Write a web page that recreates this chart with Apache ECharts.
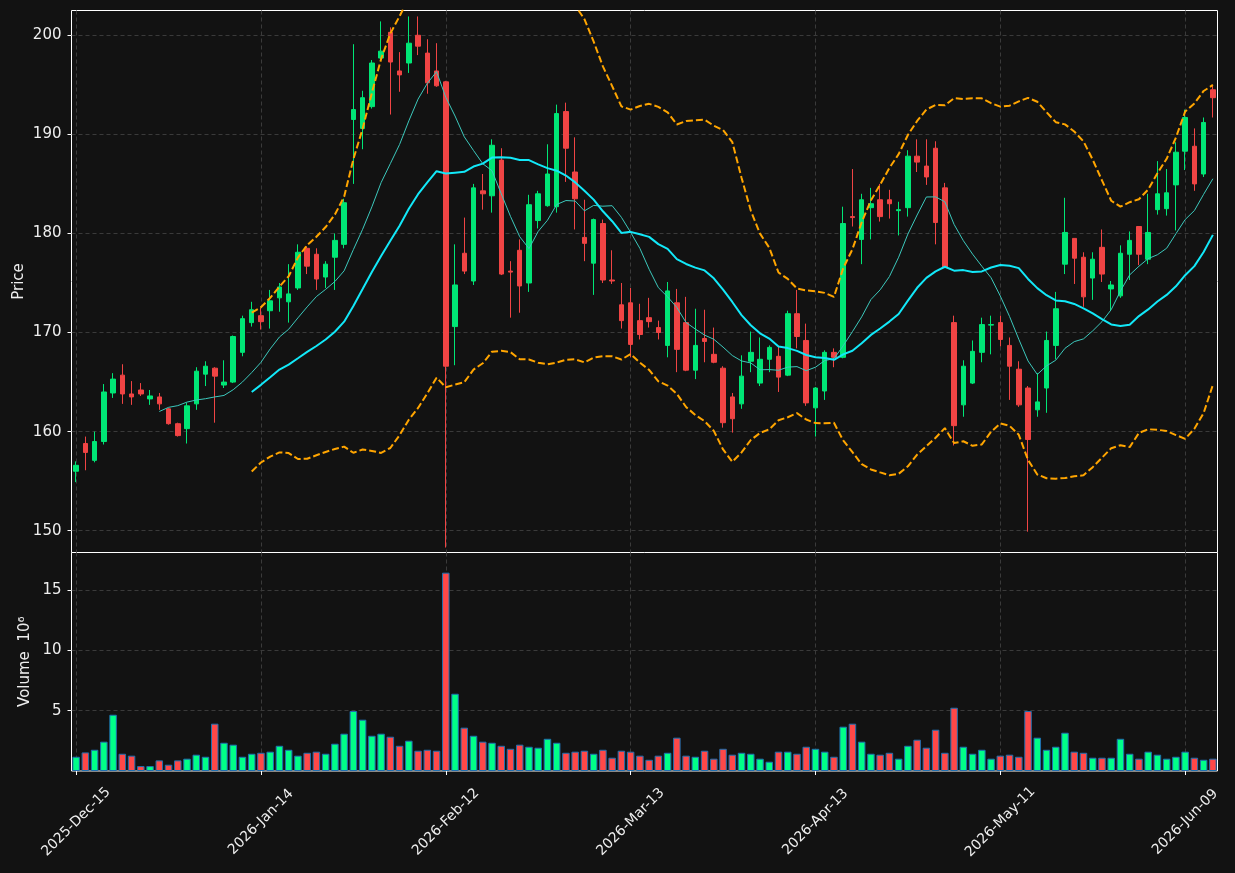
<!DOCTYPE html>
<html>
<head>
<meta charset="utf-8">
<script src="https://cdn.jsdelivr.net/npm/echarts@6/dist/echarts.min.js"></script>
<style>
  html, body { margin: 0; padding: 0; background: #121212; }
  #main { width: 1235px; height: 873px; }
</style>
</head>
<body>
<div id="main"></div>
<script>
// trading days (NYSE calendar) from 2025-12-15 to 2026-06-12
const startDay = '2025-12-15';
const endDay = '2026-06-12';
const holidays = ['2025-12-25', '2026-01-01', '2026-01-19', '2026-02-16', '2026-04-03', '2026-05-25'];

const priceTicks = [150, 160, 170, 180, 190, 200];
const volumeTicks = [5, 10, 15];

const opens = [
  156.0, 158.8, 157.1, 159.0, 163.9, 165.7, 163.8, 164.2, 163.3, 163.5,
  162.3, 160.8, 160.3, 162.8, 165.8, 166.4, 164.7, 165.0, 168.0, 171.0,
  171.7, 172.2, 173.5, 173.1, 174.5, 178.5, 177.9, 175.6, 177.6, 178.9,
  191.5, 190.6, 192.8, 197.7, 200.3, 196.4, 197.2, 200.0, 198.2, 196.4,
  195.3, 170.6, 178.0, 175.2, 184.3, 183.8, 187.4, 176.2, 178.3, 175.0,
  181.3, 182.8, 182.7, 192.3, 186.2, 179.6, 177.0, 181.0, 175.3, 172.8,
  173.0, 171.2, 171.5, 170.5, 168.7, 173.0, 171.0, 166.2, 169.4, 167.8,
  166.4, 163.5, 162.8, 167.1, 164.9, 167.3, 167.6, 165.7, 171.9, 169.2,
  162.4, 164.1, 168.0, 167.5, 181.7, 179.4, 182.6, 183.4, 183.4, 182.3,
  182.6, 187.8, 186.8, 188.6, 184.6, 171.0, 162.7, 164.9, 168.0, 170.75,
  171.0, 168.7, 166.3, 164.4, 162.2, 164.4, 168.7, 176.9, 179.5, 177.6,
  175.5, 178.6, 174.4, 173.7, 177.9, 180.7, 177.4, 182.4, 182.5, 184.9,
  188.3, 188.8, 186.0, 194.5
];
const closes = [
  156.6, 157.9, 159.0, 164.0, 165.3, 163.8, 163.5, 163.8, 163.6, 162.8,
  160.8, 159.6, 162.6, 166.1, 166.6, 165.6, 165.0, 169.6, 171.4, 172.3,
  171.1, 173.2, 174.6, 173.9, 178.1, 176.7, 175.4, 176.9, 179.3, 183.1,
  192.5, 193.7, 197.2, 198.4, 197.3, 196.0, 199.2, 198.9, 195.2, 194.9,
  166.6, 174.8, 176.2, 184.6, 184.0, 188.9, 175.9, 176.1, 174.7, 182.9,
  184.0, 186.0, 192.1, 188.6, 183.5, 179.0, 181.4, 175.3, 175.2, 171.2,
  168.8, 169.8, 171.1, 170.0, 174.2, 168.3, 166.2, 168.7, 169.1, 167.0,
  160.9, 161.3, 165.6, 168.0, 167.3, 168.5, 165.5, 171.9, 169.6, 162.9,
  164.4, 168.0, 167.5, 181.0, 181.6, 183.4, 183.0, 181.7, 183.0, 182.4,
  187.8, 187.2, 185.7, 181.1, 176.6, 160.6, 166.6, 168.1, 170.8, 170.8,
  169.3, 166.6, 162.7, 159.2, 163.0, 169.2, 172.4, 180.1, 177.5, 173.6,
  177.4, 175.9, 174.8, 178.0, 179.3, 177.9, 180.1, 184.0, 184.1, 188.2,
  191.7, 185.0, 191.2, 193.7
];
const lows = [
  154.9, 156.1, 156.9, 158.7, 163.4, 162.8, 162.7, 163.6, 162.7, 162.2,
  160.7, 159.5, 158.8, 162.2, 164.6, 160.9, 164.4, 164.9, 167.6, 170.6,
  170.3, 170.4, 172.1, 171.0, 174.3, 175.9, 174.3, 174.5, 174.3, 178.5,
  185.0, 188.5, 192.6, 197.6, 192.0, 194.3, 196.2, 198.0, 194.1, 194.8,
  148.3, 166.7, 175.9, 174.8, 182.4, 182.1, 175.8, 171.5, 172.0, 174.1,
  180.5, 182.7, 182.1, 185.2, 180.4, 177.2, 173.8, 175.0, 174.9, 170.4,
  167.5, 169.3, 170.5, 169.3, 167.5, 166.0, 166.1, 165.3, 167.0, 166.9,
  160.4, 159.9, 162.3, 166.0, 164.6, 166.0, 164.0, 165.6, 168.4, 162.6,
  159.5, 163.2, 166.5, 167.4, 180.7, 176.9, 179.4, 181.2, 181.5, 179.8,
  181.7, 186.2, 184.9, 178.9, 176.5, 158.6, 161.5, 164.8, 167.0, 167.8,
  168.6, 163.2, 162.5, 149.9, 161.5, 161.9, 167.3, 175.9, 174.9, 172.6,
  173.3, 175.1, 172.2, 173.5, 175.3, 176.8, 176.9, 181.9, 181.8, 180.3,
  186.4, 184.3, 185.7, 191.7
];
const highs = [
  157.0, 159.5, 160.0, 164.8, 165.9, 166.8, 165.1, 164.9, 164.2, 163.9,
  162.4, 160.9, 162.9, 166.5, 167.1, 166.5, 167.2, 169.7, 171.7, 173.1,
  172.5, 174.3, 175.0, 176.9, 178.9, 178.7, 178.5, 177.2, 180.0, 183.5,
  199.1, 194.4, 197.5, 201.4, 200.8, 198.3, 201.9, 201.9, 199.6, 199.2,
  195.4, 178.9, 181.6, 185.0, 186.0, 189.5, 188.6, 177.2, 179.4, 183.9,
  184.3, 189.0, 193.0, 193.2, 189.7, 183.4, 181.5, 181.4, 178.3, 175.0,
  174.5, 172.9, 173.5, 171.2, 175.1, 174.4, 173.6, 172.4, 172.3, 170.5,
  166.6, 163.9, 167.7, 170.1, 169.5, 168.7, 168.6, 172.2, 174.3, 170.9,
  164.5, 168.2, 168.4, 182.7, 186.5, 184.0, 184.6, 185.0, 184.4, 183.2,
  188.4, 189.5, 189.5, 189.3, 185.1, 171.7, 167.2, 169.2, 171.5, 171.7,
  171.7, 169.5, 167.1, 164.6, 165.9, 170.1, 174.1, 183.6, 179.5, 178.1,
  178.1, 180.4, 175.2, 178.8, 180.2, 180.7, 184.0, 187.3, 186.5, 189.2,
  192.5, 190.6, 191.7, 195.0
];
// volume in millions
const volumes = [
  1.18, 1.54, 1.76, 2.43, 4.66, 1.43, 1.27, 0.41, 0.41, 0.88,
  0.52, 0.88, 1.02, 1.35, 1.18, 3.92, 2.34, 2.18, 1.18, 1.43,
  1.51, 1.60, 2.09, 1.76, 1.27, 1.51, 1.60, 1.43, 2.26, 3.09,
  4.97, 4.25, 2.92, 3.09, 2.84, 2.09, 2.51, 1.68, 1.76, 1.68,
  16.43, 6.40, 3.59, 2.92, 2.43, 2.34, 2.09, 1.84, 2.18, 2.01,
  1.93, 2.67, 2.34, 1.51, 1.60, 1.68, 1.43, 1.76, 1.10, 1.68,
  1.60, 1.27, 0.93, 1.27, 1.51, 2.76, 1.27, 1.18, 1.68, 1.02,
  1.84, 1.35, 1.51, 1.43, 1.02, 0.77, 1.60, 1.60, 1.43, 2.01,
  1.84, 1.60, 1.18, 3.67, 3.92, 2.43, 1.43, 1.35, 1.51, 1.02,
  2.09, 2.59, 1.93, 3.42, 1.51, 5.24, 2.01, 1.43, 1.76, 1.02,
  1.27, 1.35, 1.18, 4.97, 2.76, 1.76, 2.01, 3.17, 1.60, 1.51,
  1.10, 1.10, 1.10, 2.67, 1.43, 1.02, 1.60, 1.35, 1.02, 1.18,
  1.60, 1.10, 0.93, 1.02
];

const upColor = '#00e676';
const downColor = '#f04444';
const volUp = '#00ff88';
const volDown = '#ff4848';
const textColor = '#eeeeee';
const gridColor = '#3a3a3a';
const months = ['Jan','Feb','Mar','Apr','May','Jun','Jul','Aug','Sep','Oct','Nov','Dec'];

// build the category list of trading days
let dates = [];
let d = new Date(startDay + 'T00:00:00Z');
const last = new Date(endDay + 'T00:00:00Z');
while (d <= last) {
  let iso = d.toISOString().slice(0, 10);
  let wd = d.getUTCDay();
  if (wd !== 0 && wd !== 6 && holidays.indexOf(iso) < 0) dates.push(iso);
  d = new Date(d.getTime() + 86400000);
}
function fmtDate(s) {
  let p = s.split('-');
  return p[0] + '-' + months[+p[1] - 1] + '-' + p[2];
}

// moving averages and bollinger band (20, 2) from the closes
function sma(arr, n) {
  let out = [];
  for (let i = 0; i < arr.length; i++) {
    if (i < n - 1) { out.push('-'); continue; }
    let s = 0;
    for (let j = i - n + 1; j <= i; j++) s += arr[j];
    out.push(+(s / n).toFixed(3));
  }
  return out;
}
function band(arr, n, k) {
  let mid = sma(arr, n), up = [], lo = [];
  for (let i = 0; i < arr.length; i++) {
    if (i < n - 1) { up.push('-'); lo.push('-'); continue; }
    let v = 0;
    for (let j = i - n + 1; j <= i; j++) v += (arr[j] - mid[i]) * (arr[j] - mid[i]);
    let sd = Math.sqrt(v / n);
    up.push(+(mid[i] + k * sd).toFixed(3));
    lo.push(+(mid[i] - k * sd).toFixed(3));
  }
  return [up, lo];
}
const ma10 = sma(closes, 10);
const ma20 = sma(closes, 20);
const bb = band(closes, 20, 2);

const ohlc = opens.map((o, i) => [o, closes[i], lows[i], highs[i]]);
const volData = volumes.map((v, i) => ({
  value: v,
  itemStyle: { color: closes[i] >= opens[i] ? volUp : volDown }
}));

const dashed = { color: gridColor, type: [4, 3], width: 1 };

let myChart = echarts.init(document.getElementById('main'));
let option = {
  backgroundColor: '#121212',
  animation: false,
  textStyle: { fontFamily: 'DejaVu Sans' },
  grid: [
    { left: 71.5, top: 10.5, width: 1146, height: 542, show: true, borderColor: '#ffffff', borderWidth: 1, backgroundColor: '#121212' },
    { left: 71.5, top: 552.5, width: 1146, height: 218.5, show: true, borderColor: '#ffffff', borderWidth: 1, backgroundColor: '#121212' }
  ],
  xAxis: [{
    type: 'category', gridIndex: 0, data: dates,
    axisLine: { show: false }, axisTick: { show: false }, axisLabel: { show: false },
    splitLine: { show: true, interval: 19, alignWithLabel: true, lineStyle: dashed }
  }, {
    type: 'category', gridIndex: 1, data: dates,
    axisLine: { show: false },
    axisTick: { show: true, interval: 19, alignWithLabel: true, length: 4, lineStyle: { color: '#ffffff' } },
    axisLabel: {
      interval: 19, rotate: 45, align: 'center', verticalAlign: 'middle', margin: 51,
      color: textColor, fontSize: 14, formatter: fmtDate
    },
    splitLine: { show: true, interval: 19, alignWithLabel: true, lineStyle: dashed }
  }],
  yAxis: [{
    type: 'value', gridIndex: 0, min: 147.8, max: 202.5, splitNumber: 5,
    name: 'Price', nameLocation: 'middle', nameGap: 45, nameMoveOverlap: false,
    nameTextStyle: { color: textColor, fontSize: 15 },
    axisLine: { show: false },
    axisTick: { show: true, length: 4, customValues: priceTicks, lineStyle: { color: '#ffffff' } },
    axisLabel: { color: textColor, fontSize: 15, margin: 10, customValues: priceTicks },
    splitLine: { show: true, lineStyle: dashed }
  }, {
    type: 'value', gridIndex: 1, min: 0, max: 18.1, interval: 5,
    name: 'Volume  10\u2076', nameLocation: 'middle', nameGap: 39, nameMoveOverlap: false,
    nameTextStyle: { color: textColor, fontSize: 15 },
    axisLine: { show: false },
    axisTick: { show: true, length: 4, customValues: volumeTicks, lineStyle: { color: '#ffffff' } },
    axisLabel: { color: textColor, fontSize: 15, margin: 10, customValues: volumeTicks },
    splitLine: { show: true, lineStyle: dashed }
  }],
  series: [{
    name: 'OHLC', type: 'candlestick', xAxisIndex: 0, yAxisIndex: 0,
    data: ohlc, barWidth: 5,
    itemStyle: { color: upColor, color0: downColor, borderColor: upColor, borderColor0: downColor, borderWidth: 1 }
  }, {
    name: 'MA10', type: 'line', xAxisIndex: 0, yAxisIndex: 0, data: ma10,
    symbol: 'none', lineStyle: { color: '#3cc8bc', width: 1 }, z: 3
  }, {
    name: 'MA20', type: 'line', xAxisIndex: 0, yAxisIndex: 0, data: ma20,
    symbol: 'none', lineStyle: { color: '#12e8f8', width: 2 }, z: 3
  }, {
    name: 'BB upper', type: 'line', xAxisIndex: 0, yAxisIndex: 0, data: bb[0],
    symbol: 'none', lineStyle: { color: '#ffa500', width: 2, type: [7, 3] }, z: 3
  }, {
    name: 'BB lower', type: 'line', xAxisIndex: 0, yAxisIndex: 0, data: bb[1],
    symbol: 'none', lineStyle: { color: '#ffa500', width: 2, type: [7, 3] }, z: 3
  }, {
    name: 'Volume', type: 'bar', xAxisIndex: 1, yAxisIndex: 1,
    data: volData, barWidth: 7.5,
    itemStyle: { borderColor: '#1f6fb0', borderWidth: 1 }
  }]
};
myChart.setOption(option);
</script>
</body>
</html>
